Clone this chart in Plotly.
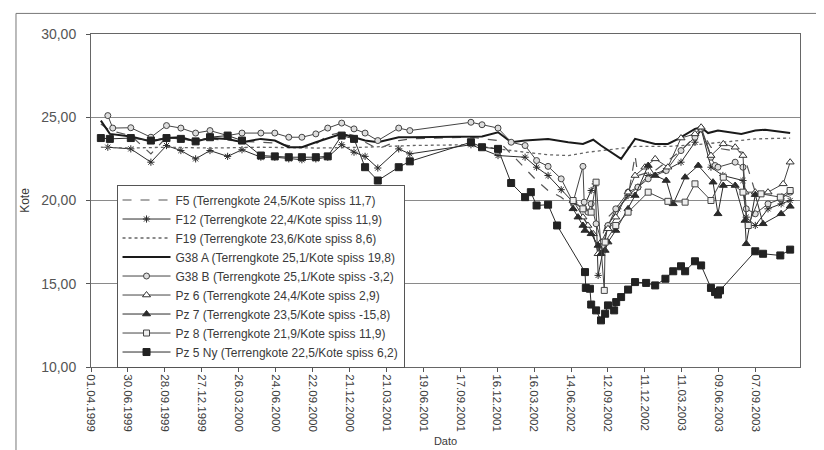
import pandas as pd
import plotly.graph_objects as go

START = "1999-04-01"          # first tick / axis start
AXIS_END = "2003-12-24"

# x tick labels every 90 days: 01.04.1999 ... 07.09.2003
X_TICKS = pd.date_range(START, periods=19, freq="90D")
Y_TICKS = [10, 15, 20, 25, 30]

# ---- series data: days after 01.04.1999 and level (Kote) ----
F5_DAYS = [24, 46, 97, 146, 184, 219, 255, 290, 333, 368, 414, 448, 482, 514, 548, 577, 611, 641, 668, 699,
           750, 777, 926, 953, 992, 1024, 1058, 1086, 1114, 1146, 1175, 1199, 1219, 1236, 1260, 1309, 1326,
           1333, 1375, 1438, 1487, 1511, 1589, 1619, 1682, 1704]
F5_KOTE = [24.6, 24.2, 23.9, 22.8, 23.8, 23.7, 23.6, 23.7, 23.6, 23.55, 23.5, 23.45, 23.3, 23.2, 23.4, 23.9,
           24.1, 23.9, 23.5, 23.1, 23.6, 23.7, 23.8, 23.7, 23.6, 22.8, 21.9, 21.2, 20.6, 20.2, 19.6, 19.0,
           18.2, 17.0, 19.0, 20.2, 22.7, 21.5, 21.8, 23.0, 24.2, 23.2, 22.9, 20.5, 20.4, 20.2]

F12_DAYS = [41, 97, 146, 184, 219, 255, 290, 333, 368, 414, 448, 482, 514, 548, 577, 611, 641, 668, 699,
            750, 777, 926, 992, 1058, 1086, 1114, 1146, 1175, 1199, 1219, 1229, 1236, 1248, 1260, 1284,
            1309, 1333, 1358, 1400, 1438, 1472, 1487, 1511, 1540, 1589, 1597, 1619, 1650, 1682, 1704]
F12_KOTE = [23.2, 23.1, 22.3, 23.3, 23.0, 22.5, 23.0, 22.65, 23.05, 22.6, 22.6, 22.5, 22.45, 22.5, 22.6,
            23.35, 22.9, 22.65, 21.95, 23.1, 22.8, 23.35, 22.7, 22.6, 22.0, 21.5, 20.65, 19.9, 19.5, 20.6,
            21.0, 15.5, 17.0, 18.5, 19.5, 20.3, 20.8, 21.5, 21.8, 22.3, 23.5, 24.3, 22.0, 21.5, 21.2, 19.0,
            18.5, 19.5, 19.8, 20.0]

F19_DAYS = [24, 97, 184, 290, 414, 548, 668, 777, 926, 992, 1058, 1114, 1163, 1211, 1280, 1326, 1406,
            1472, 1540, 1619, 1704]
F19_KOTE = [23.2, 23.15, 23.2, 23.15, 23.2, 23.15, 23.2, 23.3, 23.35, 23.1, 22.9, 22.75, 22.7, 22.9, 23.1,
            23.25, 23.25, 23.35, 23.5, 23.7, 23.75]

G38A_DAYS = [24, 46, 97, 146, 184, 219, 255, 290, 333, 368, 414, 448, 482, 514, 548, 577, 611, 641, 668,
             699, 750, 777, 926, 953, 992, 1024, 1058, 1114, 1163, 1199, 1224, 1243, 1292, 1326, 1375,
             1406, 1431, 1472, 1487, 1504, 1528, 1585, 1619, 1643, 1704]
G38A_KOTE = [24.8, 24.0, 23.85, 23.55, 23.75, 23.8, 23.55, 23.75, 23.7, 23.5, 23.7, 23.6, 23.2, 23.2, 23.5,
             23.75, 24.0, 23.8, 23.6, 23.5, 23.8, 23.8, 23.85, 23.85, 24.1, 23.5, 23.6, 23.7, 23.5, 23.4,
             23.65, 23.3, 22.5, 23.7, 23.4, 23.4, 23.7, 24.3, 24.4, 24.05, 24.2, 24.0, 24.2, 24.25, 24.05]

G38B_DAYS = [41, 53, 97, 146, 184, 219, 255, 290, 333, 368, 414, 448, 482, 514, 548, 577, 611, 641, 668,
             699, 750, 777, 926, 953, 992, 1024, 1058, 1086, 1114, 1146, 1175, 1199, 1202, 1211, 1219,
             1231, 1248, 1260, 1279, 1309, 1333, 1358, 1402, 1438, 1472, 1487, 1511, 1521, 1528, 1570,
             1589, 1597, 1619, 1650, 1682, 1704]
G38B_KOTE = [25.1, 24.35, 24.37, 23.8, 24.5, 24.35, 24.05, 24.2, 23.9, 24.05, 24.05, 24.05, 23.8, 23.8,
             24.0, 24.35, 24.65, 24.3, 24.05, 23.6, 24.35, 24.2, 24.7, 24.55, 24.35, 23.5, 23.3, 22.4,
             22.05, 21.3, 19.9, 22.05, 19.9, 19.3, 19.8, 18.6, 17.3, 18.5, 19.5, 20.5, 20.8, 21.3, 21.8,
             23.0, 23.8, 24.3, 22.6, 22.1, 22.0, 22.3, 22.0, 19.5, 19.2, 19.8, 20.1, 20.5]

PZ6_DAYS = [1175, 1199, 1211, 1224, 1236, 1243, 1260, 1279, 1309, 1326, 1350, 1375, 1406, 1438, 1472,
            1487, 1511, 1541, 1570, 1589, 1594, 1619, 1650, 1687, 1704]
PZ6_KOTE = [20.0, 19.0, 18.5, 18.0, 16.8, 17.5, 18.3, 19.0, 20.5, 21.5, 22.0, 22.5, 22.0, 23.75, 24.0,
            24.4, 22.7, 23.4, 23.2, 22.7, 20.5, 20.5, 20.5, 21.0, 22.3]

PZ7_DAYS = [1175, 1187, 1199, 1204, 1219, 1236, 1243, 1253, 1260, 1279, 1309, 1326, 1358, 1375, 1402,
            1419, 1448, 1480, 1516, 1528, 1541, 1570, 1594, 1597, 1619, 1638, 1682, 1704]
PZ7_KOTE = [19.5, 19.0, 18.5, 18.2, 18.0, 17.3, 16.8, 17.0, 17.5, 18.2, 19.5, 20.3, 22.1, 21.5, 21.2,
            19.8, 21.4, 22.1, 21.1, 19.2, 20.9, 20.9, 18.8, 17.4, 20.35, 18.6, 19.2, 19.65]

PZ8_DAYS = [1175, 1199, 1219, 1231, 1251, 1253, 1279, 1309, 1358, 1406, 1448, 1472, 1511, 1541, 1589,
            1602, 1633, 1680, 1704]
PZ8_KOTE = [20.0, 19.5, 19.3, 21.1, 14.6, 17.5, 18.5, 19.3, 20.5, 19.95, 19.9, 21.0, 20.0, 21.4, 20.5,
            18.5, 20.4, 20.2, 20.6]

PZ5_DAYS = [24, 46, 97, 146, 184, 219, 255, 290, 333, 368, 414, 448, 482, 514, 548, 577, 611, 641, 668,
            699, 750, 777, 926, 953, 992, 1024, 1058, 1072, 1086, 1114, 1136, 1204, 1206, 1216, 1219, 1231,
            1243, 1253, 1260, 1275, 1280, 1292, 1309, 1326, 1353, 1375, 1400, 1419, 1438, 1448, 1472, 1487,
            1511, 1521, 1528, 1533, 1619, 1638, 1680, 1704]
PZ5_KOTE = [23.75, 23.7, 23.75, 23.6, 23.75, 23.7, 23.55, 23.8, 23.9, 23.6, 22.7, 22.65, 22.6, 22.6, 22.6,
            22.65, 23.9, 23.7, 22.0, 21.2, 22.0, 22.35, 23.5, 23.2, 23.1, 21.05, 20.2, 20.5, 19.7, 19.75,
            18.5, 15.7, 14.75, 14.7, 13.75, 13.4, 12.8, 13.2, 13.7, 13.4, 13.9, 14.2, 14.65, 15.1, 15.05,
            14.9, 15.3, 15.75, 16.05, 15.75, 16.35, 16.1, 14.75, 14.5, 14.35, 14.6, 16.95, 16.8, 16.7, 17.05]

NAMES = [
    "F5 (Terrengkote 24,5/Kote spiss 11,7)",
    "F12 (Terrengkote 22,4/Kote spiss 11,9)",
    "F19 (Terrengkote 23,6/Kote spiss 8,6)",
    "G38 A (Terrengkote 25,1/Kote spiss 19,8)",
    "G38 B (Terrengkote 25,1/Kote spiss -3,2)",
    "Pz 6 (Terrengkote 24,4/Kote spiss 2,9)",
    "Pz 7 (Terrengkote 23,5/Kote spiss -15,8)",
    "Pz 8 (Terrengkote 21,9/Kote spiss 11,9)",
    "Pz 5 Ny (Terrengkote 22,5/Kote spiss 6,2)",
]

base = pd.Timestamp(START)


def to_dates(days):
    return base + pd.to_timedelta(days, unit="D")


INK = "#2b2b2b"
series = [
    (F5_DAYS, F5_KOTE, dict(color="#555555", width=1.2, dash="dash"), None),
    (F12_DAYS, F12_KOTE, dict(color=INK, width=1), dict(symbol="asterisk-open", size=6, line=dict(color=INK, width=1))),
    (F19_DAYS, F19_KOTE, dict(color="#666666", width=1.3, dash="dot"), None),
    (G38A_DAYS, G38A_KOTE, dict(color="#1a1a1a", width=2), None),
    (G38B_DAYS, G38B_KOTE, dict(color="#444444", width=1), dict(symbol="circle", size=6, color="#dddddd", line=dict(color="#444444", width=1))),
    (PZ6_DAYS, PZ6_KOTE, dict(color="#444444", width=1), dict(symbol="triangle-up", size=7, color="white", line=dict(color="#333333", width=1))),
    (PZ7_DAYS, PZ7_KOTE, dict(color=INK, width=1), dict(symbol="triangle-up", size=7, color=INK, line=dict(color=INK, width=1))),
    (PZ8_DAYS, PZ8_KOTE, dict(color="#444444", width=1), dict(symbol="square", size=6, color="#eeeeee", line=dict(color="#444444", width=1))),
    (PZ5_DAYS, PZ5_KOTE, dict(color=INK, width=1), dict(symbol="square", size=7, color="#222222", line=dict(color="#222222", width=1))),
]

fig = go.Figure()
for name, (d, v, line, marker) in zip(NAMES, series):
    mode = "lines+markers" if marker else "lines"
    kw = dict(x=to_dates(d), y=v, name=name, mode=mode, line=line)
    if marker:
        kw["marker"] = marker
    fig.add_trace(go.Scatter(**kw))

FONT = "Liberation Sans, Arial, sans-serif"
TXT = "#3a3a3a"

fig.update_layout(
    width=824, height=450,
    margin=dict(l=83, r=32, t=26, b=84),
    paper_bgcolor="white", plot_bgcolor="white",
    separators=",.",
    font=dict(family=FONT, color=TXT),
    showlegend=True,
    legend=dict(
        x=0.036, y=0.548, xanchor="left", yanchor="top",
        bgcolor="white", bordercolor="#555555", borderwidth=1,
        font=dict(size=12, color=TXT, family=FONT),
        itemwidth=48, tracegroupgap=0,
    ),
    xaxis=dict(
        type="date",
        range=[START, AXIS_END],
        tickvals=X_TICKS,
        tickformat="%d.%m.%Y", tickangle=90,
        tickfont=dict(size=11.5, color=TXT),
        ticks="outside", ticklen=4, tickcolor="#555555",
        showgrid=False, showline=True, linecolor="#666666", linewidth=1, mirror=True,
        title=dict(text="Dato", font=dict(size=11, color=TXT), standoff=6),
        zeroline=False,
    ),
    yaxis=dict(
        range=[10, 30], tickvals=Y_TICKS, tickformat=".2f",
        tickfont=dict(size=14, color="#555555"),
        ticks="outside", ticklen=4, tickcolor="#555555",
        ticklabelstandoff=7,
        showgrid=True, gridcolor="#8a8a8a", gridwidth=1,
        showline=True, linecolor="#666666", linewidth=1, mirror=True,
        title=dict(text="Kote", font=dict(size=12, color=TXT), standoff=8),
        zeroline=False,
    ),
)

# outer frame of the scanned figure (left and top edges visible)
fig.add_shape(type="line", xref="paper", yref="paper", x0=-0.1058, x1=-0.1058, y0=-0.26, y1=1.0618,
              line=dict(color="#777777", width=1))
fig.add_shape(type="line", xref="paper", yref="paper", x0=-0.1058, x1=1.05, y0=1.0618, y1=1.0618,
              line=dict(color="#777777", width=1))

fig.write_html("out.html")
